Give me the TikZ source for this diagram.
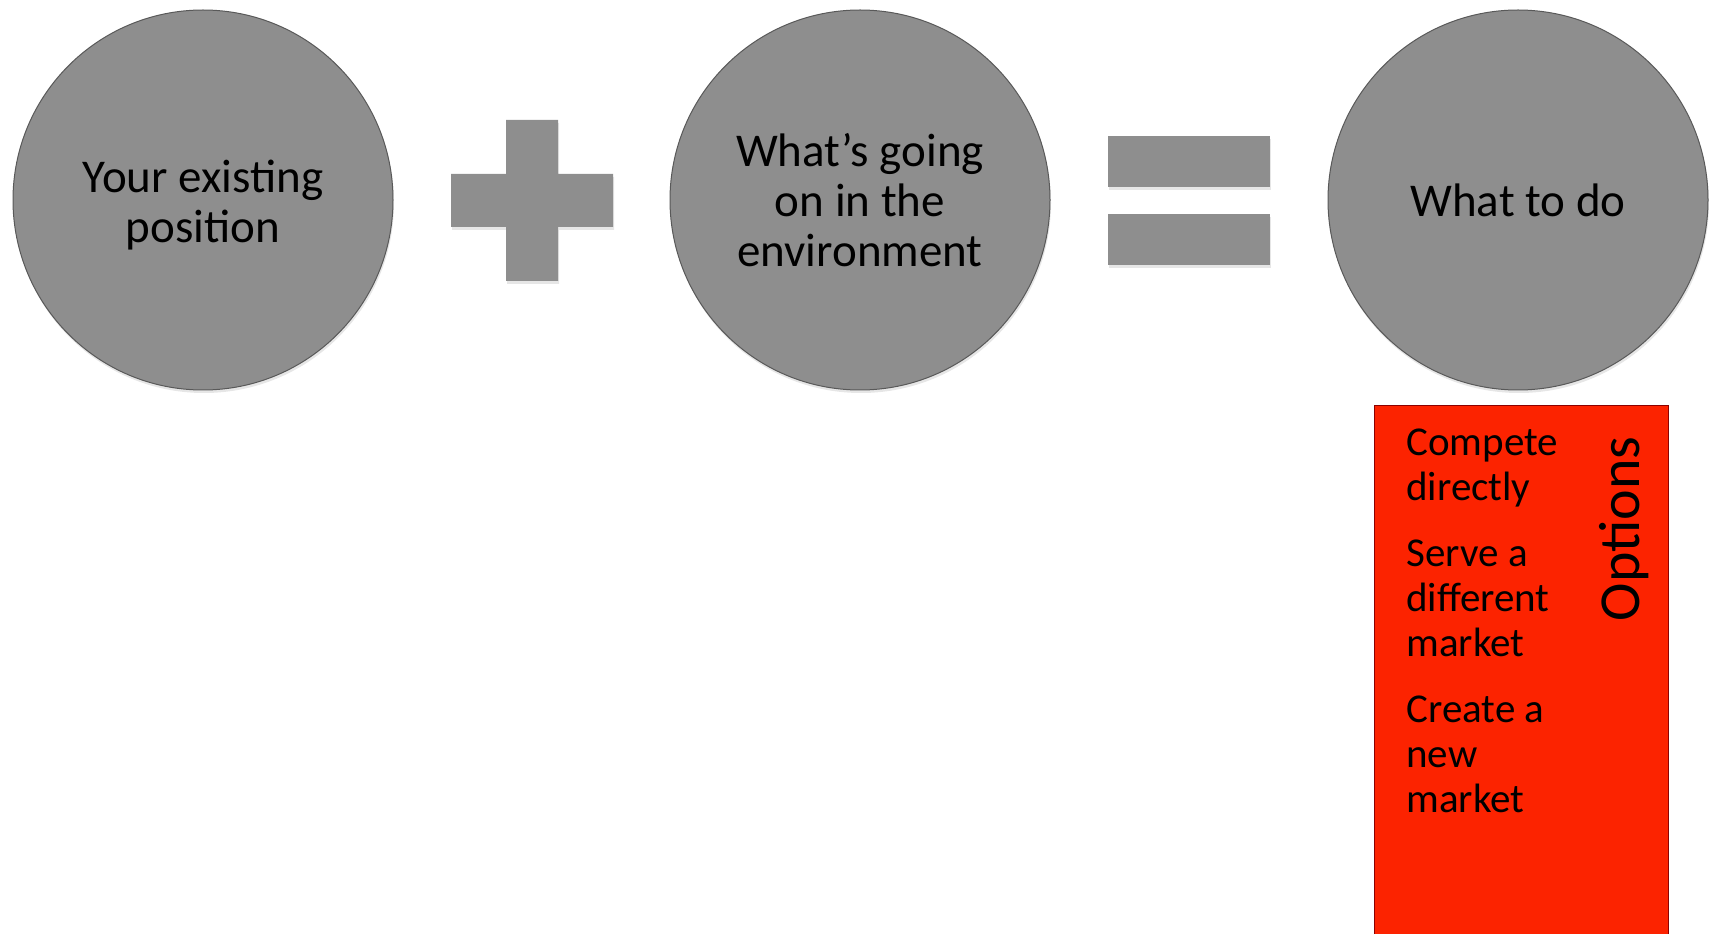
\documentclass[tikz,border=0pt]{standalone}
\usepackage{fontspec}
\setmainfont{Carlito}
\usepackage{tikz}
\usetikzlibrary{shadows, positioning}
\definecolor{bubblegray}{RGB}{142,142,142}
\definecolor{optionred}{RGB}{252,35,0}

\begin{document}
\begin{tikzpicture}[x=0.5pt, y=0.5pt,
  bubble/.style={circle, fill=bubblegray, draw=black!65, line width=0.5pt,
    minimum size=190pt, inner sep=0pt, align=center,
    font=\fontsize{23.5}{25}\selectfont,
    drop shadow={opacity=0.2, shadow xshift=0.5pt, shadow yshift=-1.5pt}},
  sign/.style={fill=bubblegray,
    drop shadow={opacity=0.2, shadow xshift=0.5pt, shadow yshift=-1.5pt}}]
  \useasboundingbox (0,0) rectangle (1709,933);

  % the three circles: \node[bubble] (name) at (x,y) {text};
  \node[bubble] (position) at (203,733) {\raisebox{-3.8pt}[\height][\depth]{\begin{tabular}{@{}c@{}}Your existing\\position\end{tabular}}};
  \node[bubble] (environment) at (860,733) {What's going\\on in the\\environment};
  \node[bubble] (todo) at (1518,733) {What to do};

  % plus sign
  \fill[sign] (506,813) -- (558,813) -- (558,759) -- (613,759) -- (613,706)
    -- (558,706) -- (558,652) -- (506,652) -- (506,706) -- (451,706)
    -- (451,759) -- (506,759) -- cycle;
  % equals sign
  \fill[sign] (1108,746) rectangle (1270,797);
  \fill[sign] (1108,668) rectangle (1270,719);

  % options box under the last circle
  \filldraw[fill=optionred, draw=red!55!black, line width=0.3pt]
    (1374,528) rectangle (1668,-10);
  \node[rotate=90, font=\fontsize{29}{31}\selectfont] (options) at (1624,404) {Options};
  \node[anchor=north west, align=left, inner sep=0pt,
    font=\fontsize{20.5}{22.5}\selectfont] (choices) at (1406,505)
    {Compete\\directly\\[10.5pt]Serve a\\different\\market\\[10.5pt]Create a\\new\\market};
\end{tikzpicture}
\end{document}
